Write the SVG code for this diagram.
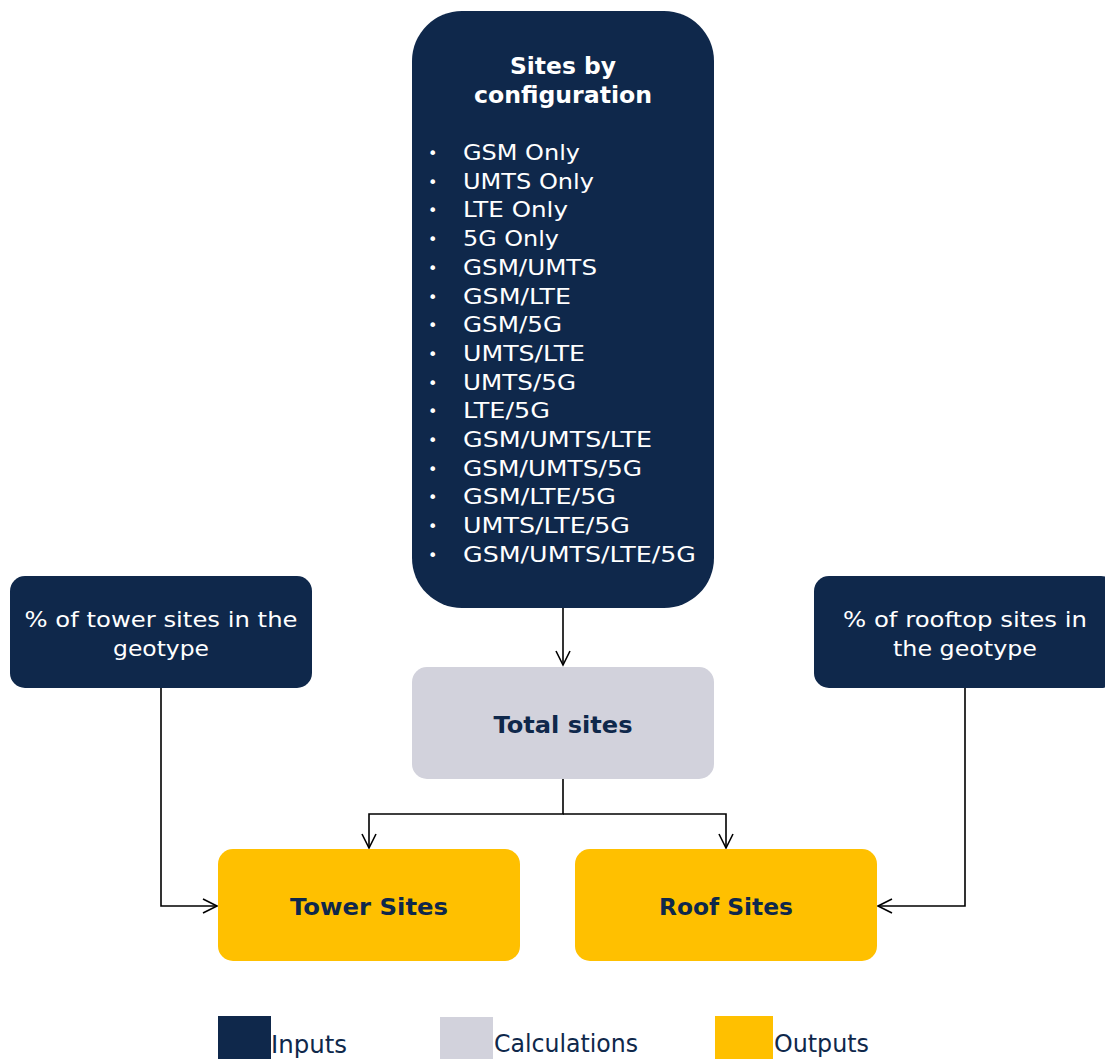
<svg xmlns="http://www.w3.org/2000/svg" width="1105" height="1059" viewBox="0 0 1105 1059">
<defs>
<marker id="arr" markerWidth="20" markerHeight="20" refX="15" refY="8" orient="auto" markerUnits="userSpaceOnUse">
<path d="M1,1 L15,8 L1,15" fill="none" stroke="#000" stroke-width="1.6"/>
</marker>
<style>
.navy{fill:#0f284b}
.gray{fill:#d2d2dc}
.yel{fill:#ffc000}
.wt{fill:#fff;font-family:"DejaVu Sans",Verdana,sans-serif;font-size:22px}
.wt text{}
.bul{fill:#fff;font-family:"DejaVu Sans",Verdana,sans-serif;font-size:16px}
.wb{fill:#fff;font-family:"DejaVu Sans",Verdana,sans-serif;font-size:23.5px;font-weight:bold}
.nb{fill:#0f284b;font-family:"DejaVu Sans",Verdana,sans-serif;font-size:23.5px;font-weight:bold}
.lg{fill:#0f284b;font-family:"DejaVu Sans Condensed","DejaVu Sans",sans-serif;font-size:25px;font-stretch:condensed}
.con{fill:none;stroke:#000;stroke-width:1.6}
</style>
</defs>
<rect width="1105" height="1059" fill="#fff"/>
<g id="connectors">
<path class="con" d="M563,608 V665" marker-end="url(#arr)"/>
<path class="con" d="M563,779 V814 H369 V848" marker-end="url(#arr)"/>
<path class="con" d="M563,814 H726 V848" marker-end="url(#arr)"/>
<path class="con" d="M161,688 V906 H217" marker-end="url(#arr)"/>
<path class="con" d="M965,688 V906 H878" marker-end="url(#arr)"/>
</g>
<g id="sites-by-config">
<rect class="navy" x="412" y="11" width="302" height="597" rx="50"/>
<text class="wb" text-anchor="middle" x="563" y="74" textLength="106" lengthAdjust="spacingAndGlyphs">Sites by</text>
<text class="wb" text-anchor="middle" x="563" y="103" textLength="178" lengthAdjust="spacingAndGlyphs">configuration</text>
<g class="bul">
<text x="428" y="159">•</text>
<text x="428" y="188">•</text>
<text x="428" y="216">•</text>
<text x="428" y="245">•</text>
<text x="428" y="274">•</text>
<text x="428" y="303">•</text>
<text x="428" y="331">•</text>
<text x="428" y="360">•</text>
<text x="428" y="389">•</text>
<text x="428" y="417">•</text>
<text x="428" y="446">•</text>
<text x="428" y="475">•</text>
<text x="428" y="503">•</text>
<text x="428" y="532">•</text>
<text x="428" y="561">•</text>
</g>
<g class="wt">
<text x="463" y="160" textLength="117" lengthAdjust="spacingAndGlyphs">GSM Only</text>
<text x="463" y="189" textLength="131" lengthAdjust="spacingAndGlyphs">UMTS Only</text>
<text x="463" y="217" textLength="105" lengthAdjust="spacingAndGlyphs">LTE Only</text>
<text x="463" y="246" textLength="96" lengthAdjust="spacingAndGlyphs">5G Only</text>
<text x="463" y="275" textLength="134" lengthAdjust="spacingAndGlyphs">GSM/UMTS</text>
<text x="463" y="304" textLength="108" lengthAdjust="spacingAndGlyphs">GSM/LTE</text>
<text x="463" y="332" textLength="99" lengthAdjust="spacingAndGlyphs">GSM/5G</text>
<text x="463" y="361" textLength="122" lengthAdjust="spacingAndGlyphs">UMTS/LTE</text>
<text x="463" y="390" textLength="113" lengthAdjust="spacingAndGlyphs">UMTS/5G</text>
<text x="463" y="418" textLength="87" lengthAdjust="spacingAndGlyphs">LTE/5G</text>
<text x="463" y="447" textLength="189" lengthAdjust="spacingAndGlyphs">GSM/UMTS/LTE</text>
<text x="463" y="476" textLength="179" lengthAdjust="spacingAndGlyphs">GSM/UMTS/5G</text>
<text x="463" y="504" textLength="153" lengthAdjust="spacingAndGlyphs">GSM/LTE/5G</text>
<text x="463" y="533" textLength="167" lengthAdjust="spacingAndGlyphs">UMTS/LTE/5G</text>
<text x="463" y="562" textLength="233" lengthAdjust="spacingAndGlyphs">GSM/UMTS/LTE/5G</text>
</g>
</g>
<g id="tower-pct">
<rect class="navy" x="10" y="576" width="302" height="112" rx="15"/>
<text class="wt" text-anchor="middle" x="161" y="627" textLength="273" lengthAdjust="spacingAndGlyphs">% of tower sites in the</text>
<text class="wt" text-anchor="middle" x="161" y="656" textLength="96" lengthAdjust="spacingAndGlyphs">geotype</text>
</g>
<g id="rooftop-pct">
<rect class="navy" x="814" y="576" width="302" height="112" rx="15"/>
<text class="wt" text-anchor="middle" x="965" y="627" textLength="244" lengthAdjust="spacingAndGlyphs">% of rooftop sites in</text>
<text class="wt" text-anchor="middle" x="965" y="656" textLength="144" lengthAdjust="spacingAndGlyphs">the geotype</text>
</g>
<g id="total-sites">
<rect class="gray" x="412" y="667" width="302" height="112" rx="15"/>
<text class="nb" text-anchor="middle" x="563" y="733" textLength="139" lengthAdjust="spacingAndGlyphs">Total sites</text>
</g>
<g id="tower-sites">
<rect class="yel" x="218" y="849" width="302" height="112" rx="15"/>
<text class="nb" text-anchor="middle" x="369" y="915" textLength="158" lengthAdjust="spacingAndGlyphs">Tower Sites</text>
</g>
<g id="roof-sites">
<rect class="yel" x="575" y="849" width="302" height="112" rx="15"/>
<text class="nb" text-anchor="middle" x="726" y="915" textLength="134" lengthAdjust="spacingAndGlyphs">Roof Sites</text>
</g>
<g id="legend">
<rect class="navy" x="218" y="1016" width="53" height="43"/>
<text class="lg" x="271" y="1053" textLength="76" lengthAdjust="spacingAndGlyphs">Inputs</text>
<rect class="gray" x="440" y="1017" width="53" height="42"/>
<text class="lg" x="494" y="1052" textLength="144" lengthAdjust="spacingAndGlyphs">Calculations</text>
<rect class="yel" x="715" y="1016" width="58" height="43"/>
<text class="lg" x="774" y="1052" textLength="95" lengthAdjust="spacingAndGlyphs">Outputs</text>
</g>
</svg>
